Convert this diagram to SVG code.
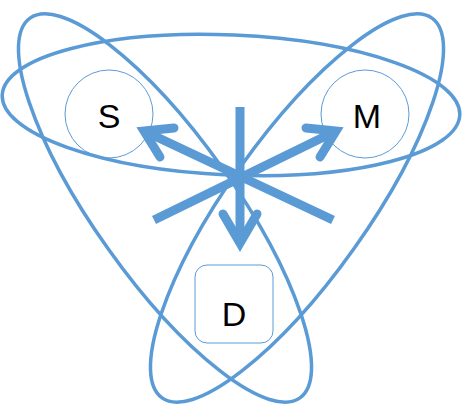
<svg xmlns="http://www.w3.org/2000/svg" width="462" height="410" viewBox="0 0 462 410">
<style>
.orbit{fill:none;stroke:#5B9BD5;stroke-width:3.5}
.node{fill:none;stroke:#5B9BD5;stroke-width:1}
.lbl{font-family:"Liberation Sans",Arial,sans-serif;font-size:34px;fill:#000;text-anchor:middle}
.shaft{fill:none;stroke:#5B9BD5;stroke-width:9;stroke-linecap:butt}
.head{fill:none;stroke:#5B9BD5;stroke-width:9;stroke-linecap:round;stroke-linejoin:miter;stroke-miterlimit:6}
</style>
<rect width="462" height="410" fill="#fff"/>
<g id="orbits">
<ellipse class="orbit" cx="231" cy="105" rx="229" ry="70" transform="rotate(2.5 231 105)"/>
<ellipse class="orbit" cx="165" cy="208" rx="233" ry="70" transform="rotate(54.6 165 208)"/>
<ellipse class="orbit" cx="297" cy="208" rx="233" ry="70" transform="rotate(-54.6 297 208)"/>
</g>
<g id="S">
<circle class="node" cx="109" cy="114" r="44"/>
<text class="lbl" x="109" y="128">S</text>
</g>
<g id="M">
<circle class="node" cx="365" cy="114" r="44"/>
<text class="lbl" x="367" y="128">M</text>
</g>
<g id="D">
<rect class="node" x="195" y="265" width="78" height="78" rx="12"/>
<text class="lbl" x="234" y="326">D</text>
</g>
<g id="connectors">
<path class="shaft" d="M240,107 V244"/>
<path class="shaft" d="M144,131 L333,220"/>
<path class="shaft" d="M336,131 L154,220"/>
<polyline class="head" points="174,128 144,131 160,157"/>
<polyline class="head" points="306,128 336,131 320,157"/>
<polyline class="head" points="223,214 240,243 257,214"/>
</g>
</svg>
